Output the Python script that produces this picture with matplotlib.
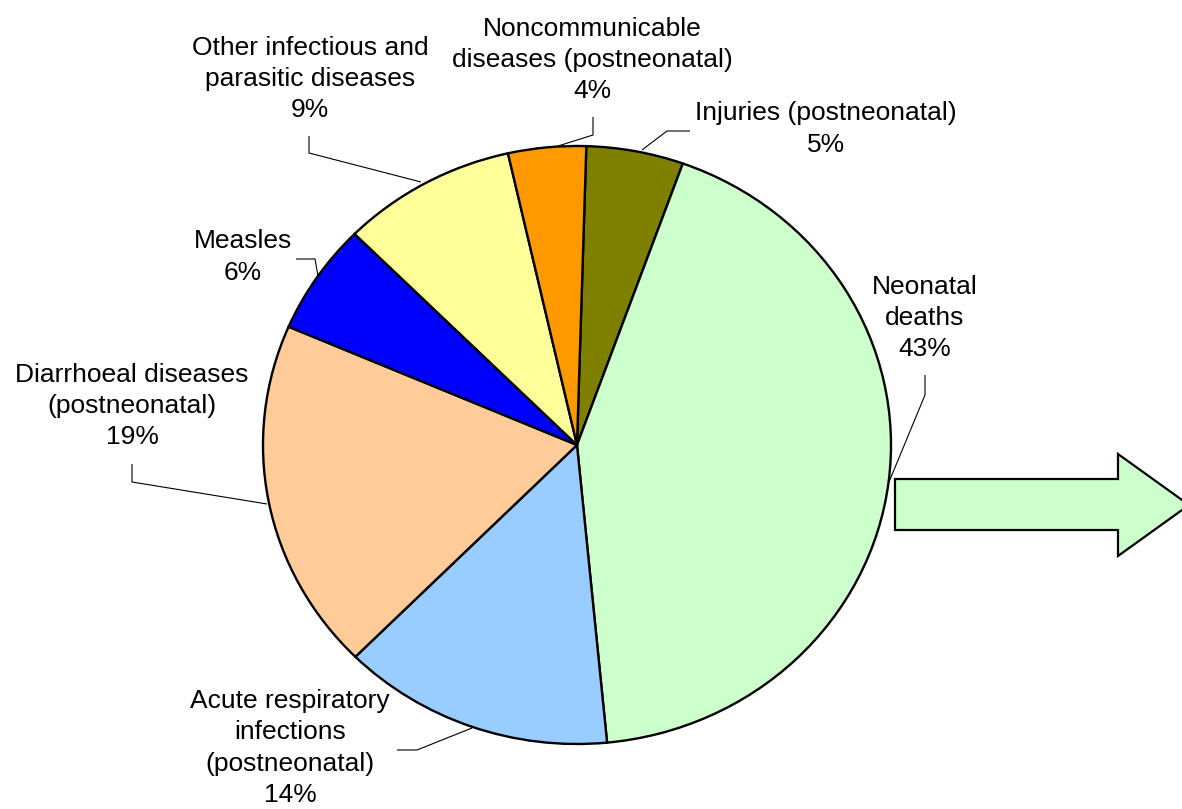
import matplotlib
matplotlib.use("Agg")
import matplotlib.pyplot as plt
from matplotlib.patches import Polygon

plt.rcParams['font.family'] = ['Liberation Sans', 'DejaVu Sans']

# Data (clockwise from top)
causes = ["Injuries (postneonatal)", "Neonatal\ndeaths",
          "Acute respiratory\ninfections\n(postneonatal)",
          "Diarrhoeal diseases\n(postneonatal)", "Measles",
          "Other infectious and\nparasitic diseases",
          "Noncommunicable\ndiseases (postneonatal)"]
shares = [5, 43, 14, 19, 6, 9, 4]
colors = ["#808000", "#CCFFCC", "#99CCFF", "#FFCC99", "#0000FF", "#FFFF99", "#FF9900"]

W, H = 1182, 809
fig = plt.figure(figsize=(W / 100, H / 100), dpi=100)

# pie axes: unit circle mapped to slightly elliptical pie
cx, cy, rx, ry = 577, 445, 314, 299
ax = fig.add_axes([0, 0, 1, 1])
ax.pie(shares, colors=colors, startangle=88.3, counterclock=False,
       radius=1, center=(0, 0), frame=False,
       wedgeprops=dict(edgecolor="black", linewidth=1.7))
ax.set_aspect("auto")
ax.set_xlim(-cx / rx, (W - cx) / rx)
ax.set_ylim((cy - H) / ry, cy / ry)
ax.axis("off")

# overlay in pixel coordinates for labels, leaders and arrow
ov = fig.add_axes([0, 0, 1, 1])
ov.set_xlim(0, W)
ov.set_ylim(H, 0)
ov.axis("off")
ov.patch.set_alpha(0)

label_pos = [(826, 129), (925, 318), (290, 748), (132, 406), (243, 257), (310, 79), (592, 60)]
leaders = [
    [(690, 131), (667, 131), (642, 150)],
    [(925, 375), (925, 395), (889, 482)],
    [(397, 750), (417, 750), (472, 728)],
    [(132, 464), (132, 482), (267, 504)],
    [(296, 259), (315, 259), (318, 276)],
    [(309, 136), (309, 153), (421, 182)],
    [(593, 117), (593, 135), (558, 146)],
]

for name, val, (lx, ly), pts in zip(causes, shares, label_pos, leaders):
    ov.text(lx, ly, f"{name}\n{val}%", ha="center", va="center",
            fontsize=19, linespacing=1.39, color="black")
    xs, ys = zip(*pts)
    ov.plot(xs, ys, color="black", lw=0.8, solid_capstyle="butt")

# block arrow
arrow = Polygon([(895, 479), (1118, 479), (1118, 454), (1189, 505),
                 (1118, 556), (1118, 530), (895, 530)],
                closed=True, facecolor="#CCFFCC", edgecolor="black", lw=1.6)
ov.add_patch(arrow)

fig.savefig("out.png", dpi=100, facecolor="white")
